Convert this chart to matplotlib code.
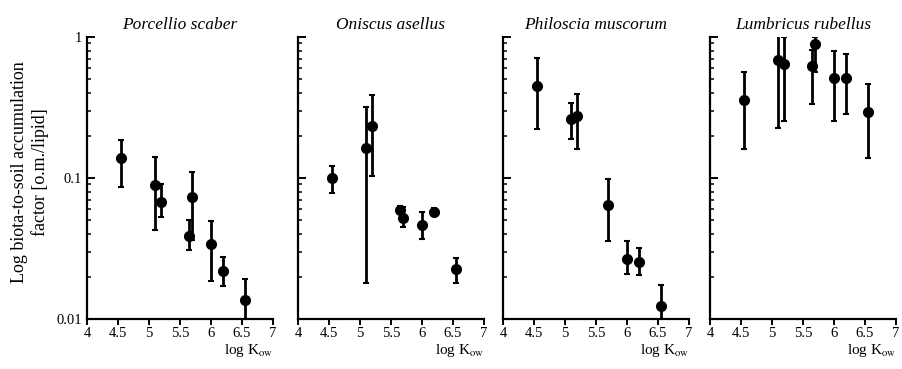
import matplotlib.pyplot as plt
import numpy as np

plt.rcParams['font.family'] = 'Liberation Serif'
plt.rcParams['mathtext.fontset'] = 'stix'

species = ['Porcellio scaber', 'Oniscus asellus', 'Philoscia muscorum', 'Lumbricus rubellus']

# log Kow of the compounds
kow_p1 = [4.55, 5.1, 5.2, 5.65, 5.7, 6.0, 6.2, 6.55]
bsaf_p1 = [0.139, 0.089, 0.068, 0.039, 0.0737, 0.0339, 0.022, 0.0136]
hi_p1 = [0.186, 0.142, 0.0906, 0.0504, 0.111, 0.0498, 0.0277, 0.0191]
lo_p1 = [0.0867, 0.043, 0.0526, 0.0309, 0.0363, 0.0186, 0.0171, 0.0098]

kow_p2 = [4.55, 5.1, 5.2, 5.65, 5.7, 6.0, 6.2, 6.55]
bsaf_p2 = [0.0995, 0.162, 0.235, 0.0593, 0.0518, 0.0464, 0.0577, 0.0225]
hi_p2 = [0.1217, 0.32, 0.386, 0.063, 0.0626, 0.0577, 0.061, 0.0272]
lo_p2 = [0.0787, 0.0181, 0.103, 0.056, 0.0447, 0.0369, 0.0538, 0.0179]

kow_p3 = [4.55, 5.1, 5.2, 5.7, 6.0, 6.2, 6.55]
bsaf_p3 = [0.449, 0.261, 0.276, 0.0644, 0.0267, 0.0252, 0.0124]
hi_p3 = [0.706, 0.342, 0.394, 0.098, 0.0356, 0.0317, 0.0173]
lo_p3 = [0.221, 0.188, 0.16, 0.0359, 0.0208, 0.0205, 0.0098]

kow_p4 = [4.55, 5.1, 5.2, 5.65, 5.7, 6.0, 6.2, 6.55]
bsaf_p4 = [0.357, 0.687, 0.64, 0.626, 0.887, 0.509, 0.509, 0.295]
hi_p4 = [0.567, 1.2, 1.0, 0.809, 1.0, 0.8, 0.757, 0.464]
lo_p4 = [0.161, 0.227, 0.254, 0.333, 0.567, 0.254, 0.284, 0.138]

panels = [(kow_p1, bsaf_p1, lo_p1, hi_p1), (kow_p2, bsaf_p2, lo_p2, hi_p2),
          (kow_p3, bsaf_p3, lo_p3, hi_p3), (kow_p4, bsaf_p4, lo_p4, hi_p4)]

xticks = [4, 4.5, 5, 5.5, 6, 6.5, 7]
xticklabels = ['4', '4.5', '5', '5.5', '6', '6.5', '7']

fig = plt.figure(figsize=(9.03, 3.69), dpi=100)
lefts = [87, 298, 503, 710]

for i, (kx, v, lo, hi) in enumerate(panels):
    ax = fig.add_axes([lefts[i] / 903, 1 - 319 / 369, 186 / 903, 282 / 369])
    v = np.array(v)
    yerr = [v - np.array(lo), np.array(hi) - v]
    ax.errorbar(kx, v, yerr=yerr, fmt='o', color='black', ms=7,
                elinewidth=2.0, capsize=2.5, capthick=1.5)
    ax.set_yscale('log')
    ax.set_ylim(0.01, 1)
    ax.set_xlim(4, 7)
    ax.set_xticks(xticks)
    ax.set_xticklabels(xticklabels, fontsize=10.5)
    for s in ['top', 'right']:
        ax.spines[s].set_visible(False)
    for s in ['left', 'bottom']:
        ax.spines[s].set_linewidth(1.6)
    ax.tick_params(axis='y', which='major', direction='in', length=6, width=1.4)
    ax.tick_params(axis='y', which='minor', direction='in', length=3, width=1.1)
    ax.tick_params(axis='x', direction='out', length=4, width=1.4, pad=2)
    if i == 0:
        ax.set_yticks([0.01, 0.1, 1])
        ax.set_yticklabels(['0.01', '0.1', '1'], fontsize=10.5)
    else:
        ax.tick_params(axis='y', which='both', labelleft=False)
    ax.set_title(species[i], fontsize=12.5, style='italic', pad=6)
    ax.text(1.0, -0.11, r'log K$_{\mathrm{ow}}$', transform=ax.transAxes,
            ha='right', va='center', fontsize=11)

fig.text(30 / 903, 1 - 172 / 369,
         'Log biota-to-soil accumulation\nfactor [o.m./lipid]',
         rotation=90, ha='center', va='center', fontsize=13, linespacing=1.25)

plt.savefig('out.png', dpi=100)
